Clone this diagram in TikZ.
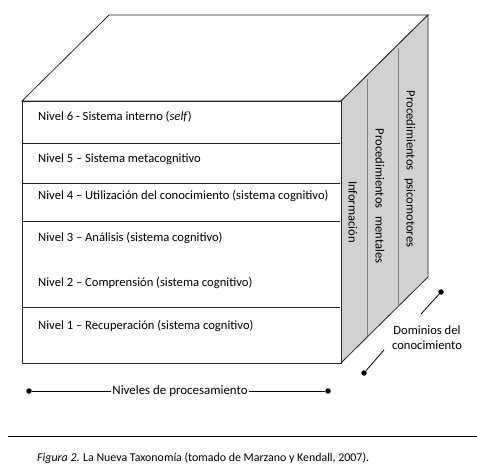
\documentclass[tikz,border=0pt]{standalone}
\usepackage{fontspec}
\setmainfont{Carlito}
\begin{document}
\begin{tikzpicture}[x=1pt,y=-1pt,
  edge/.style={draw=black!85,line width=0.8pt},
  divider/.style={draw=black!50,line width=1pt},
  lvl/.style={anchor=west,inner sep=0pt,font=\fontsize{12.6}{14}\selectfont},
  sidetxt/.style={rotate=-90,inner sep=0pt,font=\fontsize{12.6}{14}\selectfont},
  lbl/.style={inner sep=0pt,font=\fontsize{12.6}{15}\selectfont,align=center},
  dotline/.style={draw=black,line width=0.8pt},
  dotend/.style={circle,fill=black,inner sep=0pt,minimum size=5.5pt}]
\useasboundingbox (0,0) rectangle (477,476);
% cube corners
\coordinate (ftl) at (22,101);
\coordinate (ftr) at (341,101);
\coordinate (fbl) at (22,363);
\coordinate (fbr) at (341,363);
\coordinate (btl) at (109,15);
\coordinate (btr) at (428,15);
\coordinate (bbr) at (428,277);
% top face
\draw[edge,fill=white] (ftl) -- (btl) -- (btr) -- (ftr) -- cycle;
% side face
\draw[edge,fill=black!18] (ftr) -- (btr) -- (bbr) -- (fbr) -- cycle;
% dividers on side
\draw[divider] (367,79) -- (367,336);
\draw[divider] (398,48) -- (398,305);
% front face
\draw[edge,fill=white] (ftl) rectangle (fbr);
\foreach \yy in {143,183,221,307}
  \draw[edge] (22,\yy) -- (340,\yy);
% level texts
\node[lvl] (n6) at (38,117) {Nivel 6 - Sistema interno (\textit{self})};
\node[lvl] (n5) at (38,159) {Nivel 5 – Sistema metacognitivo};
\node[lvl] (n4) at (38,196) {Nivel 4 – Utilización del conocimiento (sistema cognitivo)};
\node[lvl] (n3) at (38,238) {Nivel 3 – Análisis (sistema cognitivo)};
\node[lvl] (n2) at (38,283) {Nivel 2 – Comprensión (sistema cognitivo)};
\node[lvl] (n1) at (38,326) {Nivel 1 – Recuperación (sistema cognitivo)};
% side texts
\node[sidetxt] (inf) at (353,212) {Información};
\node[sidetxt] (pm) at (380,196) {Procedimientos\hspace{0.6em}mentales};
\node[sidetxt] (pp) at (410,169) {Procedimientos\hspace{0.6em}psicomotores};
% dominios
\node[lbl] (dom) at (427,338) {Dominios del\\conocimiento};
\node[dotend] (d1) at (441,292) {};
\coordinate (d1e) at (421,314);
\draw[dotline] (d1) -- (d1e);
\node[dotend] (d2) at (364,373) {};
\coordinate (d2e) at (384,350);
\draw[dotline] (d2) -- (d2e);
% niveles de procesamiento
\node[lbl,font=\fontsize{12.9}{15}\selectfont,fill=white,inner xsep=1pt] (niv) at (180,391) {Niveles de procesamiento};
\node[dotend] (l1) at (29,391) {};
\node[dotend] (l2) at (328,391) {};
\draw[dotline] (l1) -- (niv.west);
\draw[dotline] (niv.east) -- (l2);
% caption
\coordinate (r1) at (8,436);
\coordinate (r2) at (477,436);
\draw[line width=0.8pt] (r1) -- (r2);
\node[lvl,font=\fontsize{11.9}{14}\selectfont] (cap) at (37,458) {\textit{Figura 2}. La Nueva Taxonomía (tomado de Marzano y Kendall, 2007).};
\end{tikzpicture}
\end{document}
